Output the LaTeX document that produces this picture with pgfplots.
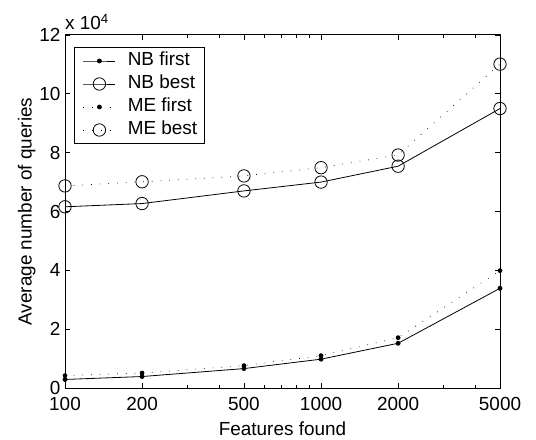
\documentclass[border=0pt]{standalone}
\usepackage{fontspec}
\setmainfont{Liberation Sans}
\usepackage{pgfplots}
\pgfplotsset{compat=1.18}

\begin{document}
\fontsize{19}{22}\selectfont
\begin{tikzpicture}
\begin{axis}[
  at={(0,0)}, anchor=south west,
  scale only axis,
  width=435bp, height=353bp,
  xmode=log,
  xmin=100, xmax=5000,
  ymin=0, ymax=12,
  xtick={100,200,500,1000,2000,5000},
  xticklabels={100,200,500,1000,2000,5000},
  minor xtick={300,400,600,700,800,900,3000,4000},
  ytick={0,2,4,6,8,10,12},
  tick align=inside,
  major tick length=5bp,
  minor tick length=3bp,
  tick style={black, line width=0.7bp},
  axis line style={line width=1bp},
  /pgf/number format/assume math mode=true,
  xticklabel style={yshift=-3bp},
  yticklabel style={xshift=2bp},
  xlabel={Features found},
  ylabel={Average number of queries},
  xlabel style={yshift=2bp},
  ylabel style={yshift=-9bp},
  legend cell align=left,
  legend style={at={(0,1)}, anchor=north west, xshift=9bp, yshift=-12bp,
    draw=black, line width=1bp, inner sep=2.5bp, row sep=1bp,
    nodes={inner xsep=5bp, inner ysep=2bp, text height=14bp, text depth=4bp}},
  legend image code/.code={
    \path (-6bp,0bp) (39bp,0bp);
    \draw[mark repeat=2, mark phase=2, #1] plot coordinates {(0bp,0bp) (16bp,0bp) (32bp,0bp)};
  },
  every axis plot/.append style={line width=0.8bp},
]
\addplot[black, mark=*, mark size=2bp] coordinates {
  (100,0.29) (200,0.39) (500,0.66) (1000,0.98) (2000,1.52) (5000,3.39)};
\addlegendentry{NB first}
\addplot[black, mark=o, mark size=6.2bp] coordinates {
  (100,6.16) (200,6.27) (500,6.70) (1000,7.00) (2000,7.54) (5000,9.50)};
\addlegendentry{NB best}
\addplot[black, line width=0.7bp, dash pattern=on 0.7bp off 8bp, mark=*, mark size=2bp, mark options={solid}] coordinates {
  (100,0.42) (200,0.51) (500,0.76) (1000,1.10) (2000,1.71) (5000,3.99)};
\addlegendentry{ME first}
\addplot[black, line width=0.7bp, dash pattern=on 0.7bp off 8bp, mark=o, mark size=6.2bp, mark options={solid, line width=0.8bp}] coordinates {
  (100,6.87) (200,7.01) (500,7.21) (1000,7.49) (2000,7.92) (5000,11.01)};
\addlegendentry{ME best}
\end{axis}
\node[anchor=south west, inner sep=0pt] at (0bp,358bp) {x 10\textsuperscript{4}};
\pgfresetboundingbox
\path (-65bp,-52bp) rectangle (471bp,388bp);
\end{tikzpicture}
\end{document}
